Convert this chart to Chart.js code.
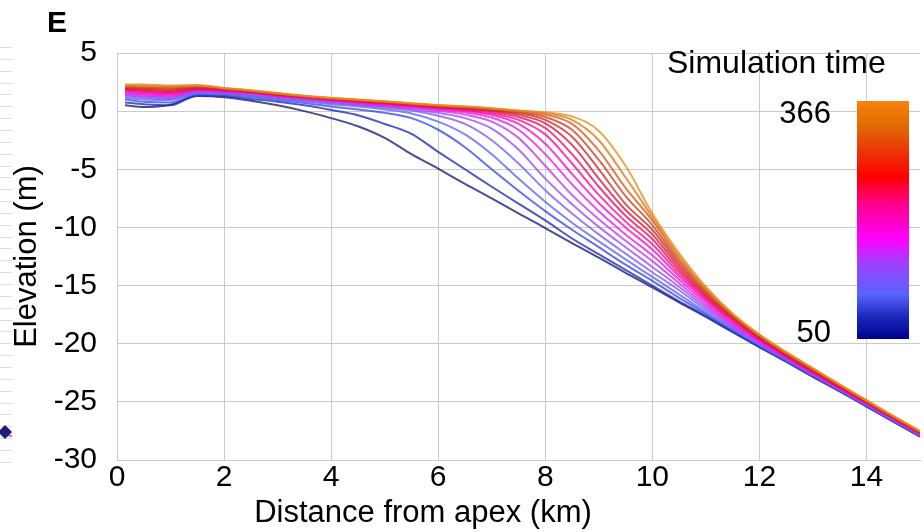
<!DOCTYPE html>
<html>
<head>
<meta charset="utf-8">
<title>Elevation profiles</title>
<script src="https://cdn.jsdelivr.net/npm/chart.js@4.4.1/dist/chart.umd.min.js"></script>
<style>
    html, body { margin: 0; padding: 0; background: #fff; }
    #wrap { width: 924px; height: 532px; }
</style>
</head>
<body>
<div id="wrap"><canvas id="chart" width="924" height="532"></canvas></div>
<script>
// ===== Delta profiles through time =====
const FONT = "'Liberation Sans', Arial, sans-serif";

const DIST = [0.15, 0.5, 1, 1.5, 2, 2.5, 3, 3.5, 4, 4.5, 5, 5.5, 6, 6.5, 7, 7.5, 8, 8.5, 9, 9.5, 10, 10.5, 11, 11.5, 12, 12.5, 13, 13.5, 14, 14.5, 15];
const X_TICKS = [0, 2, 4, 6, 8, 10, 12, 14];
const Y_TICKS = [5, 0, -5, -10, -15, -20, -25, -30];
const TIMES = [50, 70, 90, 110, 130, 150, 170, 190, 210, 230, 250, 270, 290, 310, 330, 350, 366];
const TIME_MIN = 50, TIME_MAX = 366;

const ELEV_50  = [0.5, 0.35, 0.55, 1.3, 1.2, 0.9, 0.5, 0.0, -0.6, -1.3, -2.3, -3.7, -4.95, -6.25, -7.5, -8.8, -10.05, -11.35, -12.6, -13.9, -15.15, -16.45, -17.7, -19.0, -20.3, -21.55, -22.85, -24.1, -25.4, -26.7, -28.0];
const ELEV_70  = [0.75, 0.6, 0.5, 1.35, 1.3, 1.05, 0.8, 0.5, 0.1, -0.35, -1.1, -1.95, -3.5, -5.0, -6.5, -7.95, -9.4, -10.95, -12.3, -13.65, -15.0, -16.35, -17.6, -18.95, -20.27, -21.52, -22.82, -24.08, -25.37, -26.67, -27.97];
const ELEV_90  = [1.0, 0.8, 0.75, 1.45, 1.4, 1.2, 0.95, 0.7, 0.4, 0.15, -0.15, -0.6, -1.6, -3.1, -5.0, -6.85, -8.6, -10.2, -11.7, -13.2, -14.6, -16.05, -17.45, -18.85, -20.2, -21.47, -22.78, -24.05, -25.34, -26.64, -27.94];
const ELEV_110 = [1.15, 1.0, 0.95, 1.55, 1.5, 1.3, 1.05, 0.85, 0.6, 0.4, 0.15, -0.2, -0.9, -2.0, -3.7, -5.8, -7.8, -9.6, -11.2, -12.75, -14.25, -15.75, -17.3, -18.75, -20.12, -21.42, -22.73, -24.01, -25.31, -26.61, -27.91];
const ELEV_130 = [1.3, 1.15, 1.05, 1.6, 1.55, 1.35, 1.15, 0.92, 0.7, 0.5, 0.3, 0.05, -0.4, -1.1, -2.5, -4.5, -6.8, -8.8, -10.6, -12.25, -13.85, -15.4, -17.1, -18.64, -20.04, -21.36, -22.68, -23.97, -25.27, -26.57, -27.88];
const ELEV_150 = [1.4, 1.25, 1.15, 1.7, 1.6, 1.45, 1.2, 1.0, 0.78, 0.58, 0.4, 0.17, -0.15, -0.6, -1.5, -3.3, -5.8, -8.0, -9.95, -11.7, -13.4, -15.1, -16.9, -18.52, -19.95, -21.3, -22.63, -23.93, -25.23, -26.54, -27.84];
const ELEV_170 = [1.5, 1.35, 1.25, 1.75, 1.65, 1.5, 1.25, 1.05, 0.85, 0.65, 0.47, 0.27, 0.02, -0.3, -0.9, -2.3, -4.7, -7.2, -9.3, -11.15, -12.9, -14.8, -16.7, -18.4, -19.87, -21.24, -22.58, -23.89, -25.2, -26.51, -27.81];
const ELEV_190 = [1.6, 1.45, 1.35, 1.8, 1.7, 1.55, 1.3, 1.1, 0.9, 0.72, 0.54, 0.35, 0.12, -0.12, -0.55, -1.6, -3.7, -6.3, -8.6, -10.6, -12.4, -14.5, -16.5, -18.28, -19.78, -21.18, -22.53, -23.85, -25.16, -26.47, -27.78];
const ELEV_210 = [1.7, 1.55, 1.45, 1.85, 1.75, 1.6, 1.35, 1.15, 0.95, 0.77, 0.6, 0.42, 0.22, 0.02, -0.32, -1.1, -2.8, -5.4, -7.9, -10.0, -11.9, -14.2, -16.3, -18.15, -19.7, -21.12, -22.48, -23.81, -25.12, -26.44, -27.75];
const ELEV_230 = [1.8, 1.65, 1.55, 1.9, 1.8, 1.62, 1.4, 1.18, 1.0, 0.82, 0.65, 0.48, 0.28, 0.1, -0.18, -0.75, -2.0, -4.5, -7.2, -9.5, -11.45, -13.95, -16.15, -18.02, -19.62, -21.06, -22.43, -23.77, -25.09, -26.41, -27.72];
const ELEV_250 = [1.85, 1.75, 1.65, 1.95, 1.85, 1.65, 1.42, 1.2, 1.03, 0.86, 0.7, 0.52, 0.33, 0.17, -0.05, -0.5, -1.45, -3.7, -6.5, -9.0, -11.0, -13.7, -16.0, -17.9, -19.55, -21.0, -22.38, -23.73, -25.05, -26.38, -27.69];
const ELEV_270 = [1.9, 1.85, 1.75, 2.0, 1.88, 1.68, 1.45, 1.22, 1.05, 0.89, 0.73, 0.56, 0.38, 0.23, 0.04, -0.32, -1.05, -2.9, -5.8, -8.5, -10.6, -13.45, -15.85, -17.8, -19.48, -20.95, -22.33, -23.69, -25.02, -26.35, -27.66];
const ELEV_290 = [2.0, 1.95, 1.85, 2.05, 1.9, 1.7, 1.47, 1.24, 1.07, 0.91, 0.76, 0.6, 0.42, 0.28, 0.1, -0.18, -0.75, -2.2, -5.0, -8.0, -10.2, -13.2, -15.7, -17.7, -19.42, -20.9, -22.28, -23.65, -24.99, -26.32, -27.63];
const ELEV_310 = [2.05, 2.0, 1.95, 2.1, 1.92, 1.72, 1.49, 1.26, 1.09, 0.93, 0.78, 0.62, 0.45, 0.32, 0.15, -0.08, -0.5, -1.6, -4.2, -7.3, -9.8, -12.95, -15.55, -17.62, -19.36, -20.85, -22.23, -23.61, -24.96, -26.29, -27.6];
const ELEV_330 = [2.15, 2.1, 2.05, 2.15, 1.95, 1.75, 1.51, 1.28, 1.11, 0.95, 0.8, 0.64, 0.48, 0.36, 0.2, 0.0, -0.3, -1.1, -3.4, -6.6, -9.4, -12.7, -15.4, -17.55, -19.3, -20.8, -22.18, -23.57, -24.92, -26.26, -27.56];
const ELEV_350 = [2.2, 2.2, 2.15, 2.2, 1.97, 1.77, 1.53, 1.3, 1.13, 0.97, 0.82, 0.66, 0.5, 0.39, 0.23, 0.03, -0.18, -0.75, -2.5, -5.7, -9.1, -12.45, -15.25, -17.47, -19.25, -20.75, -22.14, -23.53, -24.88, -26.23, -27.53];
const ELEV_366 = [2.3, 2.3, 2.2, 2.25, 2.0, 1.8, 1.55, 1.32, 1.15, 1.0, 0.85, 0.68, 0.52, 0.41, 0.25, 0.05, -0.1, -0.45, -1.7, -4.7, -8.8, -12.2, -15.1, -17.4, -19.2, -20.7, -22.1, -23.5, -24.85, -26.2, -27.5];

const PROFILES = [ELEV_50, ELEV_70, ELEV_90, ELEV_110, ELEV_130, ELEV_150, ELEV_170, ELEV_190, ELEV_210,
    ELEV_230, ELEV_250, ELEV_270, ELEV_290, ELEV_310, ELEV_330, ELEV_350, ELEV_366];

// colour of each profile, sampled along the colour bar (early -> late)
const LINE_COLORS = ['#1a1a78', '#1c2ab8', '#3a4ae0', '#5a66f0', '#7c5cf2', '#9a4af2', '#c034f0', '#e81aec',
    '#f70cc0', '#f70a92', '#ec0a62', '#dc1436', '#cf2a28', '#cf3c20', '#d65a18', '#de7818', '#e88e20'];
const BAR_STOPS = [[0, '#00008c'], [0.1, '#1e2cc0'], [0.19, '#5a64ff'], [0.32, '#a040ff'], [0.42, '#ff00ff'],
    [0.57, '#ff0088'], [0.68, '#ff0000'], [0.8, '#ea3a08'], [0.9, '#e06c04'], [1, '#f7820e']];

const datasets = PROFILES.map((ys, i) => ({
    label: String(TIMES[i]),
    data: DIST.map((x, j) => ({ x, y: ys[j] })),
    borderColor: LINE_COLORS[i] + 'c8',
    borderWidth: 2,
    pointRadius: 0,
    cubicInterpolationMode: 'monotone',
    fill: false,
})).reverse(); // latest first so it is drawn on top

const decor = {
    id: 'decor',
    beforeDraw(chart) {
        // slice of the neighbouring panel along the left edge
        const c = chart.ctx;
        c.save();
        c.strokeStyle = '#dedede';
        c.lineWidth = 1;
        for (let k = 0; k < 36; k++) {
            const y = Math.round(47 + k * 11.85) + 0.5;
            c.beginPath(); c.moveTo(0, y); c.lineTo(12, y); c.stroke();
        }
        c.strokeStyle = '#f06cb0'; c.lineWidth = 2;
        c.beginPath(); c.moveTo(4, 435); c.lineTo(12, 436); c.stroke();
        c.fillStyle = '#1c1c78';
        c.translate(5, 432); c.rotate(Math.PI / 4);
        c.fillRect(-5, -5, 10, 10);
        c.restore();
    },
    afterDraw(chart) {
        const c = chart.ctx;
        c.save();
        c.fillStyle = '#000';
        c.textBaseline = 'middle';
        c.font = `bold 30px ${FONT}`;
        c.textAlign = 'left';
        c.fillText('E', 47, 24);

        c.font = `31px ${FONT}`;
        c.textAlign = 'center';
        c.fillText('Distance from apex (km)', 423, 513);

        // colour bar legend
        c.font = `32px ${FONT}`;
        c.textAlign = 'left';
        c.fillText('Simulation time', 667, 64);
        c.font = `31px ${FONT}`;
        c.textAlign = 'right';
        c.fillText(String(TIME_MAX), 831, 114);
        c.fillText(String(TIME_MIN), 831, 333);
        const g = c.createLinearGradient(0, 339, 0, 101);
        BAR_STOPS.forEach(([p, col]) => g.addColorStop(p, col));
        c.fillStyle = g;
        c.fillRect(857, 101, 52, 238);
        c.restore();
    }
};

new Chart(document.getElementById('chart'), {
    type: 'line',
    data: { datasets },
    options: {
        responsive: false,
        devicePixelRatio: 1,
        animation: false,
        layout: { padding: { left: 0, right: 4, top: 53, bottom: 0 } },
        plugins: { legend: { display: false }, tooltip: { enabled: false } },
        scales: {
            x: {
                type: 'linear',
                min: 0, max: 15,
                afterBuildTicks: s => { s.ticks = X_TICKS.map(v => ({ value: v })); },
                afterFit: s => { s.height = 72; },
                grid: { color: '#cacaca', lineWidth: 1, drawTicks: false },
                border: { color: '#cacaca' },
                ticks: { color: '#000', font: { family: FONT, size: 30 }, padding: 0, maxRotation: 0 },
            },
            y: {
                type: 'linear',
                min: -30, max: 5,
                afterBuildTicks: s => { s.ticks = Y_TICKS.map(v => ({ value: v })); },
                afterFit: s => { s.width = 117; },
                grid: { color: '#cacaca', lineWidth: 1, drawTicks: false },
                border: { color: '#cacaca' },
                ticks: { color: '#000', font: { family: FONT, size: 30 }, padding: 20 },
                title: { display: true, text: 'Elevation (m)', color: '#000', font: { family: FONT, size: 31 }, padding: { top: 9, bottom: 0 } },
            }
        }
    },
    plugins: [decor]
});
</script>
</body>
</html>
